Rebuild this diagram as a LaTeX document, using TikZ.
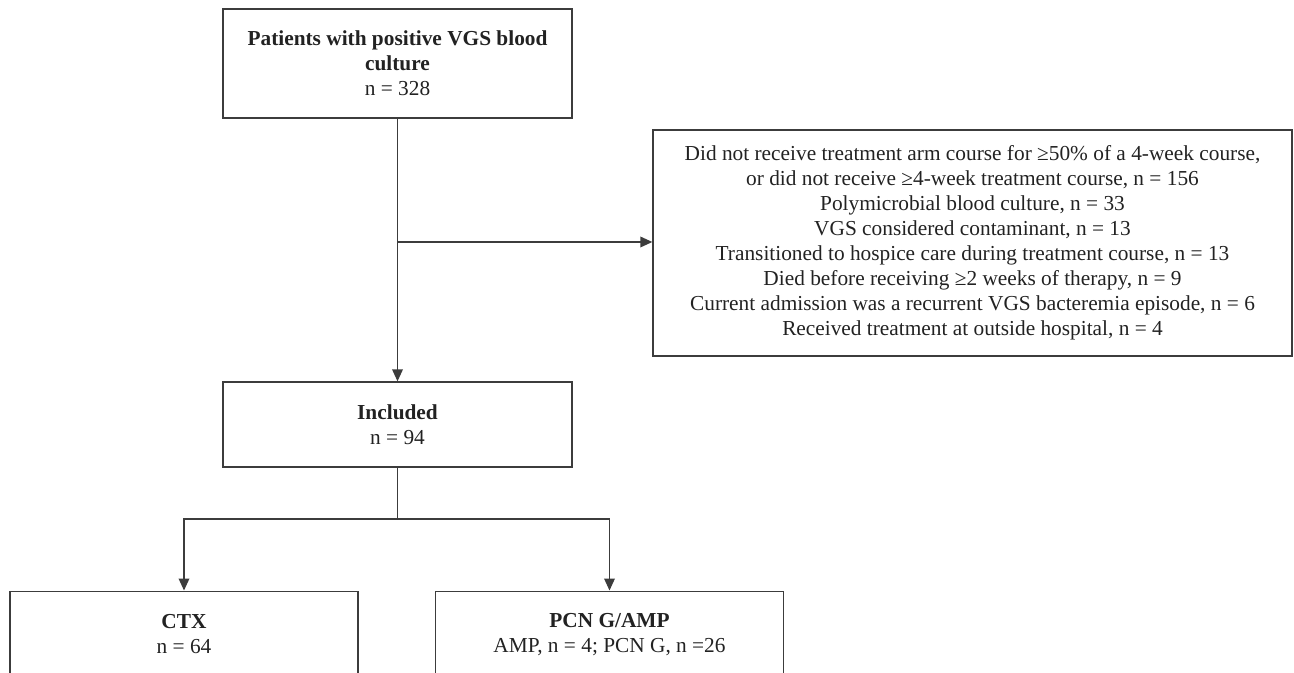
\documentclass[tikz,border=0pt]{standalone}
\usepackage{fontspec}
\setmainfont{Liberation Serif}
\usepackage{tikz}
\usetikzlibrary{arrows, arrows.meta, calc}

\definecolor{linegray}{HTML}{3C3C3C}
\definecolor{textdark}{HTML}{222222}

\begin{document}
\begin{tikzpicture}[x=0.75pt, y=-0.75pt,
    box/.style={draw=linegray, line width=1pt, rectangle, inner sep=0pt},
    txt/.style={align=center, text=textdark, inner sep=0pt,
        font=\fontsize{16}{18.8}\selectfont},
    arr/.style={draw=linegray, line width=1pt, -{Triangle[length=9pt,width=8pt]}},
    conn/.style={draw=linegray, line width=1pt}]
    \useasboundingbox (0,0) rectangle (1294,673);
    \clip (0,0) rectangle (1294,673);

    % boxes
    \node[box, txt, minimum width=261.75pt, minimum height=81.75pt] (top) at (397.5,63.5)
        {\textbf{Patients with positive VGS blood}\\\textbf{culture}\\n = 328};
    \node[box, txt, minimum width=479.25pt, minimum height=169.5pt] (excl) at (972.5,243)
        {Did not receive treatment arm course for ≥50\% of a 4-week course,\\
         or did not receive ≥4-week treatment course, n = 156\\
         Polymicrobial blood culture, n = 33\\
         VGS considered contaminant, n = 13\\
         Transitioned to hospice care during treatment course, n = 13\\
         Died before receiving ≥2 weeks of therapy, n = 9\\
         Current admission was a recurrent VGS bacteremia episode, n = 6\\
         Received treatment at outside hospital, n = 4};
    \node[box, txt, minimum width=261.75pt, minimum height=63.75pt] (incl) at (397.5,424.5)
        {\textbf{Included}\\n = 94};
    \node[box, minimum width=261pt, minimum height=97.5pt, anchor=north] (ctx) at (184,590.5) {};
    \node[box, minimum width=261pt, minimum height=97.5pt, anchor=north] (pcn) at (609.5,590.5) {};
    \node[txt] (ctxtxt) at (184,634.5) {\textbf{CTX}\\n = 64};
    \node[txt] (pcntxt) at (609.5,634.5) {\textbf{PCN G/AMP}\\AMP, n = 4; PCN G, n =26};

    % connectors
    \coordinate (split) at (397.5,242);
    \coordinate (fork) at (397.5,519);
    \draw[arr] (top.south) -- (incl.north);
    \draw[arr] (split) -- (split -| excl.west);
    \draw[conn] (incl.south) -- (fork);
    \draw[arr] (fork) -| (ctx.north);
    \draw[arr] (fork) -| (pcn.north);
\end{tikzpicture}
\end{document}
